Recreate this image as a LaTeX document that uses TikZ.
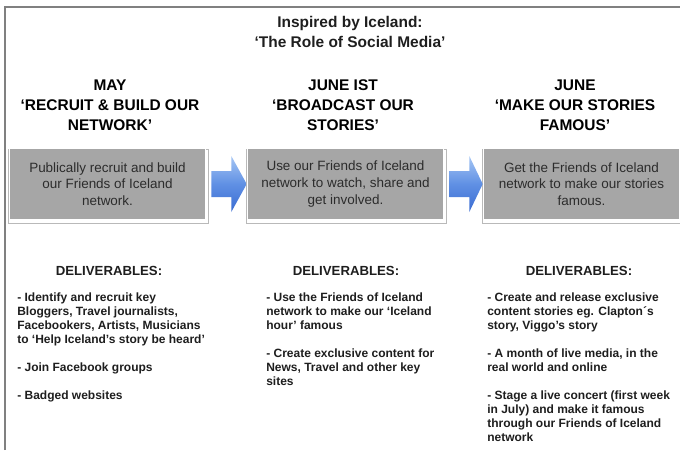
\documentclass[tikz,border=0pt]{standalone}
\usepackage{fontspec}
\setmainfont{Liberation Sans}
\usetikzlibrary{shadows}
\definecolor{framegray}{RGB}{128,128,128}
\definecolor{boxgray}{RGB}{166,166,166}
\definecolor{boxtext}{RGB}{44,44,44}
\definecolor{inktext}{RGB}{30,30,30}
\definecolor{arrowlight}{RGB}{165,198,244}
\definecolor{arrowmid}{RGB}{96,144,228}
\definecolor{arrowdark}{RGB}{58,108,210}

\begin{document}
\begin{tikzpicture}[x=0.75pt,y=0.75pt,yscale=-1,xscale=1,
  titletext/.style={align=center, inner sep=0.75pt, text=inktext, font=\bfseries\fontsize{11.6}{15}\selectfont},
  headtext/.style={align=center, inner sep=0.75pt, text=black, font=\bfseries\fontsize{11.6}{15}\selectfont},
  stagebox/.style={fill=boxgray, draw=white, line width=1.2pt, minimum width=147pt, minimum height=54pt,
    align=center, inner sep=0.75pt, text=boxtext, font=\fontsize{10.1}{12.4}\selectfont,
    general shadow={fill=white, draw=gray!55, line width=0.6pt, shadow scale=1.02, shadow xshift=0.6pt, shadow yshift=-1.8pt}},
  delivtext/.style={inner sep=0.75pt, text=inktext, font=\bfseries\fontsize{9.9}{11}\selectfont},
  itemtext/.style={anchor=north west, align=left, inner sep=0pt, text=inktext, font=\bfseries\fontsize{9}{10.5}\selectfont},
  blockarrow/.style={top color=arrowlight, bottom color=arrowdark, middle color=arrowmid, draw=none}
]
\useasboundingbox (0,0) rectangle (680,450);

%Shape: Frame
\draw [color=framegray, line width=1.1pt] (5,450) -- (5,7) -- (680,7);

% Text Node
\node [titletext] (title) at (350,32) {Inspired by Iceland:\\‘The Role of Social Media’};

% Text Node
\node [headtext] (headmay) at (110,105) {MAY\\‘RECRUIT \& BUILD OUR\\NETWORK’};
% Text Node
\node [headtext] (headjune1) at (343,105) {JUNE IST\\‘BROADCAST OUR\\STORIES’};
% Text Node
\node [headtext] (headjune2) at (575,105) {JUNE\\‘MAKE OUR STORIES\\FAMOUS’};

%Shape: Stage boxes
\node [stagebox] (recruit) at (107.5,184) {Publically recruit and build\\our Friends of Iceland\\network.};
\node [stagebox] (broadcast) at (345.5,184) {Use our Friends of Iceland\\network to watch, share and\\get involved.};
\node [stagebox] (famous) at (581.5,184) {Get the Friends of Iceland\\network to make our stories\\famous.};

%Shape: Block arrows
\foreach \from/\to in {recruit/broadcast,broadcast/famous}
  \shade [blockarrow] ([shift={(5,-13)}]\from.east) -- ++(20,0) -- ++(0,-15) -- (\to.west)
    -- ([shift={(25,28)}]\from.east) -- ++(0,-15) -- ([shift={(5,13)}]\from.east) -- cycle;

% Text Node
\node [delivtext] (deliv1) at (109,271) {DELIVERABLES:};
% Text Node
\node [delivtext] (deliv2) at (346,271) {DELIVERABLES:};
% Text Node
\node [delivtext] (deliv3) at (579,271) {DELIVERABLES:};

% Text Node
\node [itemtext] (items1) at (17,293) {- Identify and recruit key\\Bloggers, Travel journalists,\\Facebookers, Artists, Musicians\\to ‘Help Iceland’s story be heard’\\[10.5pt]
- Join Facebook groups\\[10.5pt]
- Badged websites};
% Text Node
\node [itemtext] (items2) at (266,293) {- Use the Friends of Iceland\\network to make our ‘Iceland\\hour’ famous\\[10.5pt]
- Create exclusive content for\\News, Travel and other key\\sites};
% Text Node
\node [itemtext] (items3) at (487,293) {- Create and release exclusive\\content stories eg. Clapton´s\\story, Viggo’s story\\[10.5pt]
- A month of live media, in the\\real world and online\\[10.5pt]
- Stage a live concert (first week\\in July) and make it famous\\through our Friends of Iceland\\network};

\end{tikzpicture}
\end{document}
